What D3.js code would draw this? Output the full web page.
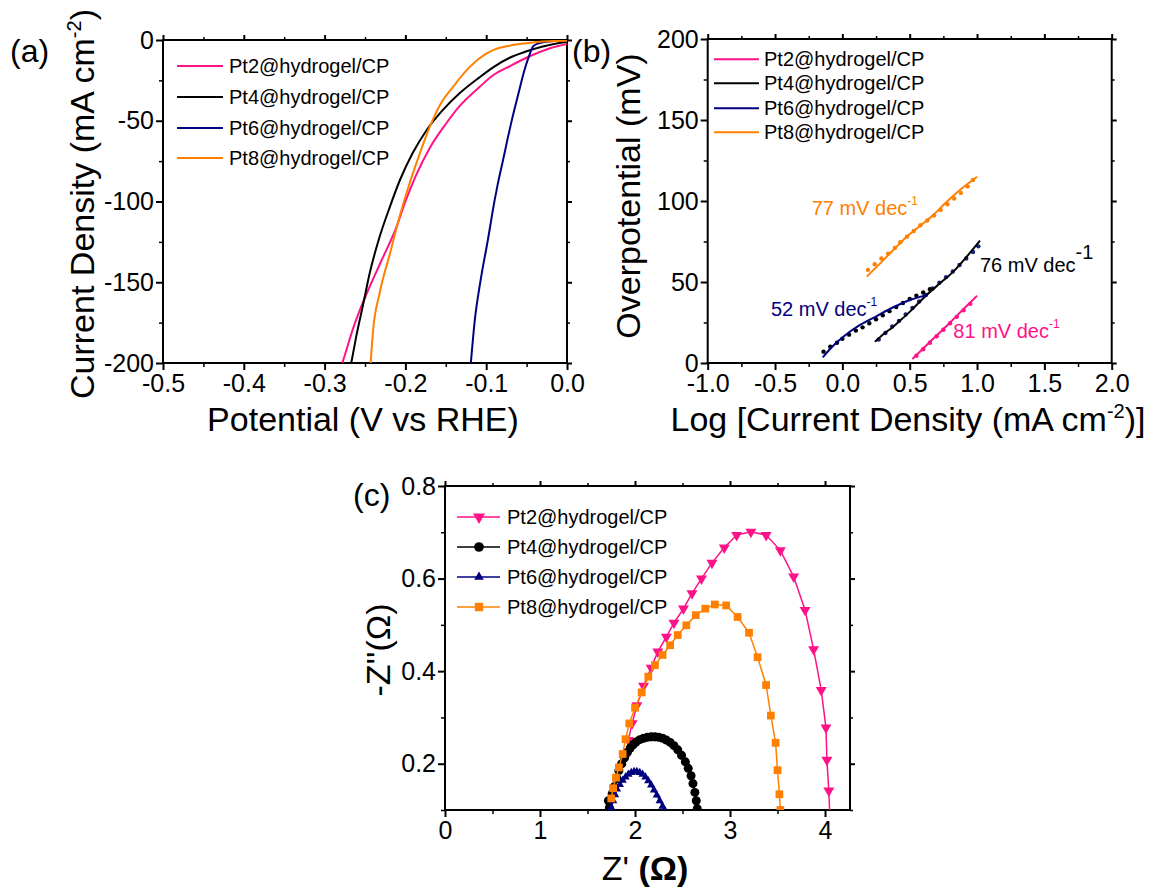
<!DOCTYPE html>
<html>
<head>
<meta charset="utf-8">
<script src="https://cdn.jsdelivr.net/npm/d3@7"></script>
<style>
  body { margin: 0; background: #fff; }
  svg text { font-family: 'Liberation Sans', Arial, Helvetica, sans-serif; fill: #000; }
</style>
</head>
<body>
<svg id="chart" width="1152" height="887"></svg>
<script>
// ---------- data ----------
var seriesNames = ["Pt2@hydrogel/CP", "Pt4@hydrogel/CP", "Pt6@hydrogel/CP", "Pt8@hydrogel/CP"];
var seriesColors = ["#FF1188", "#000000", "#000080", "#FF8000"];

// (a) polarization curves: [potential V vs RHE, current density mA cm-2]
var lsvPt2 = [[0,-2.5],[-0.02,-5],[-0.05,-11],[-0.07,-16],[-0.092,-22],[-0.108,-29],[-0.133,-41],[-0.15,-52],[-0.17,-67],[-0.187,-84],[-0.2,-100],[-0.212,-117],[-0.23,-137],[-0.247,-156],[-0.257,-168],[-0.267,-182],[-0.273,-192],[-0.278,-200]];
var lsvPt4 = [[0,-1],[-0.03,-4],[-0.05,-7],[-0.071,-11],[-0.09,-16.5],[-0.108,-23],[-0.133,-33],[-0.153,-43],[-0.174,-56],[-0.191,-70],[-0.207,-87],[-0.219,-103],[-0.232,-122],[-0.244,-144],[-0.252,-163],[-0.261,-184],[-0.267,-200]];
var lsvPt6 = [[0,-0.3],[-0.02,-0.8],[-0.035,-2],[-0.042,-4],[-0.047,-10],[-0.054,-21],[-0.06,-33],[-0.068,-49],[-0.073,-60],[-0.079,-74],[-0.086,-90],[-0.0895,-99],[-0.098,-124],[-0.107,-149],[-0.114,-173],[-0.119,-200]];
var lsvPt8 = [[0,-0.4],[-0.03,-1],[-0.05,-2],[-0.071,-3.5],[-0.09,-6],[-0.1,-8.5],[-0.12,-16.5],[-0.141,-29],[-0.158,-41],[-0.17,-54],[-0.182,-70],[-0.195,-89],[-0.207,-109],[-0.219,-132],[-0.232,-157],[-0.24,-180],[-0.243,-200]];

// (b) Tafel fits [log j, overpotential mV] and measured points
var tafelFitPt2 = [[0.52,2.5],[0.6,9],[0.7,17],[0.8,25],[0.9,33.3],[1.0,41.5]];
var tafelDotPt2 = [[0.55,4.5],[0.6,8.5],[0.65,12.5],[0.7,16.5],[0.75,20.5],[0.8,24.5],[0.85,28.5],[0.9,32.5],[0.95,36.5]];
var tafelFitPt4 = [[0.242,13.1],[0.3,17.5],[0.378,22.4],[0.44,27],[0.502,31.7],[0.565,37],[0.626,42],[0.725,49.2],[0.824,56.4],[0.923,65.6],[1.022,75.5]];
var tafelDotPt4 = [[0.27,14.5],[0.32,18.5],[0.37,22.5],[0.42,26],[0.47,30],[0.52,34],[0.57,38],[0.62,42],[0.67,46],[0.72,49.5],[0.77,53],[0.82,56.5],[0.87,60.5],[0.92,64.5],[0.97,68.5],[1.01,72]];
var tafelFitPt6 = [[-0.146,3.5],[-0.07,10.5],[0.007,16.2],[0.131,23.5],[0.255,29],[0.378,34.4],[0.502,38.9],[0.601,41.4],[0.626,42]];
var tafelDotPt6 = [[-0.14,7],[-0.09,10],[-0.04,12.5],[0.0,15],[0.05,17.5],[0.1,20],[0.15,22],[0.2,24.5],[0.25,27],[0.3,29.5],[0.35,32],[0.4,34.5],[0.45,37],[0.5,39.5],[0.55,41.5],[0.6,43.5],[0.65,45.5]];
var tafelFitPt8 = [[0.181,53.3],[0.281,61.5],[0.378,69.8],[0.478,78],[0.576,84.6],[0.675,91.4],[0.775,99.6],[0.873,106.8],[1.0,115]];
var tafelDotPt8 = [[0.19,57.5],[0.24,61],[0.29,64.5],[0.34,67.5],[0.39,71],[0.43,74.5],[0.48,78],[0.53,81.5],[0.58,85],[0.63,88],[0.68,91],[0.73,94.5],[0.78,98],[0.83,101.5],[0.88,105],[0.93,109],[0.97,113]];
var tafelSlopes = ["81", "76", "52", "77"];
var tafelLabelPos = [[0.824,15.2],[1.022,56.4],[-0.53,29],[-0.228,91.4]];

// (c) Nyquist plots: Z' and -Z'' (ohm)
var eisPt2Re = [1.91,1.93,1.97,2.02,2.09,2.17,2.24,2.33,2.41,2.51,2.60,2.70,2.81,2.94,3.07,3.22,3.38,3.53,3.67,3.79,3.88,3.96,4.01,4.02,4.04,4.05];
var eisPt2Im = [0.217,0.251,0.287,0.326,0.368,0.407,0.442,0.474,0.504,0.535,0.568,0.600,0.634,0.667,0.694,0.701,0.694,0.661,0.604,0.532,0.447,0.359,0.278,0.208,0.142,0.09];
var eisPt4Re = [1.73,1.72,1.76,1.78,1.81,1.83,1.86,1.89,1.92,1.95,1.98,2.01,2.05,2.09,2.13,2.17,2.21,2.25,2.29,2.33,2.37,2.41,2.45,2.49,2.53,2.56,2.59,2.61,2.63,2.645,2.655];
var eisPt4Im = [0.105,0.12,0.135,0.15,0.168,0.185,0.2,0.213,0.225,0.234,0.241,0.247,0.252,0.255,0.257,0.258,0.258,0.257,0.255,0.251,0.246,0.239,0.23,0.218,0.204,0.19,0.174,0.157,0.138,0.12,0.103];
var eisPt6Re = [1.75,1.77,1.79,1.81,1.84,1.87,1.90,1.93,1.96,1.99,2.02,2.05,2.08,2.11,2.14,2.17,2.20,2.23,2.26,2.29,2.31];
var eisPt6Im = [0.105,0.12,0.133,0.145,0.155,0.164,0.171,0.177,0.181,0.183,0.183,0.181,0.177,0.171,0.163,0.154,0.143,0.132,0.12,0.108,0.1];
var eisPt8Re = [1.75,1.77,1.80,1.83,1.87,1.90,1.94,2.00,2.07,2.14,2.21,2.29,2.37,2.45,2.54,2.64,2.74,2.84,2.96,3.08,3.20,3.29,3.38,3.43,3.48,3.50,3.52,3.53];
var eisPt8Im = [0.125,0.147,0.170,0.192,0.221,0.253,0.287,0.321,0.354,0.388,0.413,0.435,0.456,0.478,0.499,0.521,0.535,0.544,0.542,0.517,0.483,0.430,0.370,0.304,0.245,0.186,0.134,0.10];

// ---------- drawing ----------
var svg = d3.select("#chart");

var xa = d3.scaleLinear().domain([-0.5, 0]).range([163, 567]);
var ya = d3.scaleLinear().domain([-200, 0]).range([363, 40]);
var xb = d3.scaleLinear().domain([-1, 2]).range([707.7, 1111.7]);
var yb = d3.scaleLinear().domain([0, 200]).range([363, 39]);
var xc = d3.scaleLinear().domain([0, 4.263]).range([445, 850]);
var yc = d3.scaleLinear().domain([0.1, 0.8]).range([810, 486]);

function frame(id, x, y, xMaj, xMin, yMaj, yMin, xFmt, yFmt) {
    var xr = x.range(), yr = y.range();
    var g = svg.append("g").attr("class", "frame-" + id);
    function put(axis, tx, ty, cls) {
        var a = g.append("g").attr("class", cls)
            .attr("transform", "translate(" + tx + "," + ty + ")")
            .call(axis);
        a.select(".domain").remove();
        a.selectAll("line").attr("stroke", "#000").attr("stroke-width", cls.indexOf("minor") >= 0 ? 1.5 : 2);
        a.selectAll("text").style("font-size", "25px").attr("fill", "#000");
        return a;
    }
    put(d3.axisBottom(x).tickValues(xMaj).tickFormat(xFmt).tickSize(7).tickPadding(4), 0, yr[0], "major");
    put(d3.axisBottom(x).tickValues(xMin).tickFormat("").tickSize(4), 0, yr[0], "minor");
    put(d3.axisTop(x).tickValues(xMaj).tickFormat("").tickSize(5), 0, yr[1], "major");
    put(d3.axisTop(x).tickValues(xMin).tickFormat("").tickSize(3), 0, yr[1], "minor");
    put(d3.axisLeft(y).tickValues(yMaj).tickFormat(yFmt).tickSize(7).tickPadding(2), xr[0], 0, "major");
    put(d3.axisLeft(y).tickValues(yMin).tickFormat("").tickSize(4), xr[0], 0, "minor");
    put(d3.axisRight(y).tickValues(yMaj).tickFormat("").tickSize(5), xr[1], 0, "major");
    put(d3.axisRight(y).tickValues(yMin).tickFormat("").tickSize(3), xr[1], 0, "minor");
    g.append("rect")
        .attr("x", xr[0]).attr("y", yr[1])
        .attr("width", xr[1] - xr[0]).attr("height", yr[0] - yr[1])
        .attr("fill", "none").attr("stroke", "#000").attr("stroke-width", 2);
    svg.append("clipPath").attr("id", "clip-" + id)
        .append("rect")
        .attr("x", xr[0]).attr("y", yr[1])
        .attr("width", xr[1] - xr[0]).attr("height", yr[0] - yr[1]);
}

function fix1(d) { return d.toFixed(1); }

// ---- panel (a) ----
frame("a", xa, ya,
    [-0.5, -0.4, -0.3, -0.2, -0.1, 0], [-0.45, -0.35, -0.25, -0.15, -0.05],
    [-200, -150, -100, -50, 0], [-175, -125, -75, -25],
    fix1, function(d){ return String(d); });

var lineA = d3.line().x(function(d){ return xa(d[0]); }).y(function(d){ return ya(d[1]); }).curve(d3.curveMonotoneX);
var plotA = svg.append("g").attr("clip-path", "url(#clip-a)");
[lsvPt2, lsvPt4, lsvPt6, lsvPt8].forEach(function(s, i){
    plotA.append("path").datum(s)
        .attr("d", lineA)
        .attr("fill", "none")
        .attr("stroke", seriesColors[i])
        .attr("stroke-width", 2);
});

var legA = svg.append("g");
[66, 97, 128, 158].forEach(function(yy, i){
    legA.append("line").attr("x1", 177).attr("x2", 223).attr("y1", yy).attr("y2", yy)
        .attr("stroke", seriesColors[i]).attr("stroke-width", 2);
    legA.append("text").attr("x", 229).attr("y", yy + 7).style("font-size", "20px").text(seriesNames[i]);
});

svg.append("text").attr("x", 363).attr("y", 431).attr("text-anchor", "middle")
    .style("font-size", "34px").text("Potential (V vs RHE)");
var yta = svg.append("text").attr("transform", "translate(94,204) rotate(-90)")
    .attr("text-anchor", "middle").style("font-size", "34px");
yta.append("tspan").text("Current Density (mA cm");
yta.append("tspan").attr("dy", -13).style("font-size", "20px").text("-2");
yta.append("tspan").attr("dy", 13).text(")");
svg.append("text").attr("x", 10).attr("y", 62).style("font-size", "32px").text("(a)");

// ---- panel (b) ----
frame("b", xb, yb,
    [-1, -0.5, 0, 0.5, 1, 1.5, 2], [-0.75, -0.25, 0.25, 0.75, 1.25, 1.75],
    [0, 50, 100, 150, 200], [25, 75, 125, 175],
    fix1, function(d){ return String(d); });

var lineB = d3.line().x(function(d){ return xb(d[0]); }).y(function(d){ return yb(d[1]); }).curve(d3.curveMonotoneX);
var plotB = svg.append("g").attr("clip-path", "url(#clip-b)");
var fitsB = [tafelFitPt2, tafelFitPt4, tafelFitPt6, tafelFitPt8];
var dotsB = [tafelDotPt2, tafelDotPt4, tafelDotPt6, tafelDotPt8];
// measured points: Pt4 drawn with navy dots, Pt6 with black dots as in the figure
var dotColors = ["#FF1188", "#1a237e", "#000000", "#FF8000"];
dotsB.forEach(function(s, i){
    plotB.selectAll(null).data(s).enter().append("circle")
        .attr("cx", function(d){ return xb(d[0]); })
        .attr("cy", function(d){ return yb(d[1]); })
        .attr("r", 2.2)
        .attr("fill", dotColors[i]);
});
fitsB.forEach(function(s, i){
    plotB.append("path").datum(s)
        .attr("d", lineB)
        .attr("fill", "none")
        .attr("stroke", seriesColors[i])
        .attr("stroke-width", 2);
});

tafelSlopes.forEach(function(sl, i){
    var t = svg.append("text")
        .attr("x", xb(tafelLabelPos[i][0]))
        .attr("y", yb(tafelLabelPos[i][1]))
        .style("fill", seriesColors[i])
        .style("font-size", "20px");
    t.append("tspan").text(sl + " mV dec");
    var big = (i === 1);
    t.append("tspan").attr("dy", big ? -13 : -10)
        .style("font-size", big ? "20px" : "12px")
        .text("-1");
});

var legB = svg.append("g");
[59.3, 83.3, 108.3, 132.3].forEach(function(yy, i){
    legB.append("line").attr("x1", 714).attr("x2", 759).attr("y1", yy).attr("y2", yy)
        .attr("stroke", seriesColors[i]).attr("stroke-width", 2);
    legB.append("text").attr("x", 764).attr("y", yy + 7).style("font-size", "20px").text(seriesNames[i]);
});

var xtb = svg.append("text").attr("x", 908).attr("y", 431).attr("text-anchor", "middle")
    .style("font-size", "34px");
xtb.append("tspan").text("Log [Current Density (mA cm");
xtb.append("tspan").attr("dy", -13).style("font-size", "20px").text("-2");
xtb.append("tspan").attr("dy", 13).text(")]");
svg.append("text").attr("transform", "translate(640,196) rotate(-90)")
    .attr("text-anchor", "middle").style("font-size", "34px").text("Overpotential (mV)");
svg.append("text").attr("x", 572).attr("y", 62).style("font-size", "32px").text("(b)");

// ---- panel (c) ----
frame("c", xc, yc,
    [0, 1, 2, 3, 4], [0.5, 1.5, 2.5, 3.5],
    [0.2, 0.4, 0.6, 0.8], [0.1, 0.3, 0.5, 0.7],
    function(d){ return String(d); }, fix1);

var eisRe = [eisPt2Re, eisPt4Re, eisPt6Re, eisPt8Re];
var eisIm = [eisPt2Im, eisPt4Im, eisPt6Im, eisPt8Im];
var symTypes = [d3.symbolTriangle, d3.symbolCircle, d3.symbolTriangle, d3.symbolSquare];
var symSizes = [52, 64, 30, 60];
var symRot = [180, 0, 0, 0];
var plotC = svg.append("g").attr("clip-path", "url(#clip-c)");
eisRe.forEach(function(re, i){
    var pts = re.map(function(v, k){ return [v, eisIm[i][k]]; });
    plotC.append("path").datum(pts)
        .attr("d", d3.line().x(function(d){ return xc(d[0]); }).y(function(d){ return yc(d[1]); }))
        .attr("fill", "none")
        .attr("stroke", seriesColors[i])
        .attr("stroke-width", 1.5);
    plotC.selectAll(null).data(pts).enter().append("path")
        .attr("d", d3.symbol().type(symTypes[i]).size(symSizes[i]))
        .attr("transform", function(d){ return "translate(" + xc(d[0]) + "," + yc(d[1]) + ") rotate(" + symRot[i] + ")"; })
        .attr("fill", seriesColors[i]);
});

var legC = svg.append("g");
[517, 547, 577, 607].forEach(function(yy, i){
    legC.append("line").attr("x1", 457).attr("x2", 500).attr("y1", yy).attr("y2", yy)
        .attr("stroke", seriesColors[i]).attr("stroke-width", 1.5);
    legC.append("path")
        .attr("d", d3.symbol().type(symTypes[i]).size(symSizes[i] + 10))
        .attr("transform", "translate(479," + yy + ") rotate(" + symRot[i] + ")")
        .attr("fill", seriesColors[i]);
    legC.append("text").attr("x", 507).attr("y", yy + 7).style("font-size", "20px").text(seriesNames[i]);
});

var xtc = svg.append("text").attr("x", 645).attr("y", 880).attr("text-anchor", "middle")
    .style("font-size", "34px");
xtc.append("tspan").text("Z' ");
xtc.append("tspan").style("font-weight", "bold").text("(Ω)");
svg.append("text").attr("transform", "translate(390,650) rotate(-90)")
    .attr("text-anchor", "middle").style("font-size", "34px").text("-Z''(Ω)");
svg.append("text").attr("x", 353).attr("y", 506).style("font-size", "32px").text("(c)");
</script>
</body>
</html>
